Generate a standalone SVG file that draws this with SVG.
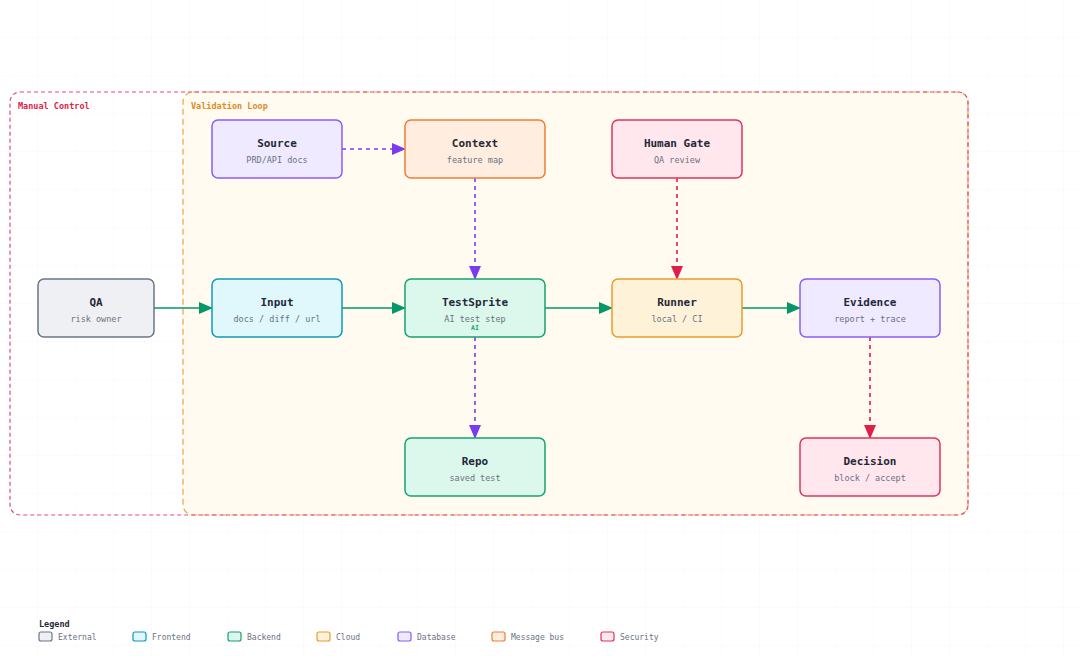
<svg xmlns="http://www.w3.org/2000/svg" width="1080" height="656" viewBox="0 0 1080 656">
<defs>
<pattern id="grid" width="38" height="38" patternUnits="userSpaceOnUse">
<path d="M38 0V38H0" fill="none" stroke="#f7f7f9" stroke-width="1"/>
</pattern>
<marker id="ag" viewBox="0 0 14 12" refX="13" refY="6" markerWidth="14" markerHeight="12" markerUnits="userSpaceOnUse" orient="auto"><path d="M0 0L14 6L0 12z" fill="#059669"/></marker>
<marker id="ap" viewBox="0 0 14 12" refX="13" refY="6" markerWidth="14" markerHeight="12" markerUnits="userSpaceOnUse" orient="auto"><path d="M0 0L14 6L0 12z" fill="#7c3aed"/></marker>
<marker id="ar" viewBox="0 0 14 12" refX="13" refY="6" markerWidth="14" markerHeight="12" markerUnits="userSpaceOnUse" orient="auto"><path d="M0 0L14 6L0 12z" fill="#e11d48"/></marker>
</defs>
<style>
text{font-family:"DejaVu Sans Mono","Liberation Mono",monospace}
.t{font-size:11px;font-weight:bold;fill:#1f2937;text-anchor:middle}
.s{font-size:8.5px;fill:#6b7280;text-anchor:middle}
.n rect{stroke-width:1.5}
.ext{fill:#eef0f4;stroke:#6b7689}
.fe{fill:#e0f7fc;stroke:#0e9ab8}
.be{fill:#dcf7ec;stroke:#16a271}
.cl{fill:#fef3d9;stroke:#eb9a2a}
.db{fill:#efeaff;stroke:#8b5cf6}
.mb{fill:#ffeddf;stroke:#ef7d34}
.se{fill:#ffe7ed;stroke:#e0345e}
.g{stroke:#059669;stroke-width:1.6;fill:none;marker-end:url(#ag)}
.p{stroke:#7c3aed;stroke-width:1.6;fill:none;stroke-dasharray:4 4;marker-end:url(#ap)}
.r{stroke:#e11d48;stroke-width:1.6;fill:none;stroke-dasharray:4 4;marker-end:url(#ar)}
.lg{font-size:8px;fill:#6b7280}
.lg rect{stroke-width:1.2}
</style>
<rect width="1080" height="656" fill="#ffffff"/>
<rect width="1080" height="656" fill="url(#grid)"/>
<g id="validation-loop">
<rect x="183" y="92" width="785" height="423" rx="10" fill="#fffbf1" stroke="#f0a040" stroke-width="1.2" stroke-dasharray="6 4"/>
<text x="191" y="109" font-size="8.5" font-weight="bold" fill="#e08a1e">Validation Loop</text>
</g>
<g id="manual-control">
<rect x="10" y="92" width="958" height="423" rx="10" fill="none" stroke="#e8487a" stroke-width="1.2" stroke-dasharray="4 3"/>
<text x="18" y="109" font-size="8.5" font-weight="bold" fill="#e11d48">Manual Control</text>
</g>
<g id="connectors">
<path class="g" d="M154 308H212"/>
<path class="g" d="M342 308H405"/>
<path class="g" d="M545 308H612"/>
<path class="g" d="M742 308H800"/>
<path class="p" d="M342 149H405"/>
<path class="p" d="M475 178V279"/>
<path class="p" d="M475 337V438"/>
<path class="r" d="M677 178V279"/>
<path class="r" d="M870 337V438"/>
</g>
<g id="source" class="n"><rect class="db" x="212" y="120" width="130" height="58" rx="6"/><text class="t" x="277" y="147">Source</text><text class="s" x="277" y="163">PRD/API docs</text></g>
<g id="context" class="n"><rect class="mb" x="405" y="120" width="140" height="58" rx="6"/><text class="t" x="475" y="147">Context</text><text class="s" x="475" y="163">feature map</text></g>
<g id="human-gate" class="n"><rect class="se" x="612" y="120" width="130" height="58" rx="6"/><text class="t" x="677" y="147">Human Gate</text><text class="s" x="677" y="163">QA review</text></g>
<g id="qa" class="n"><rect class="ext" x="38" y="279" width="116" height="58" rx="6"/><text class="t" x="96" y="306">QA</text><text class="s" x="96" y="322">risk owner</text></g>
<g id="input" class="n"><rect class="fe" x="212" y="279" width="130" height="58" rx="6"/><text class="t" x="277" y="306">Input</text><text class="s" x="277" y="322">docs / diff / url</text></g>
<g id="testsprite" class="n"><rect class="be" x="405" y="279" width="140" height="58" rx="6"/><text class="t" x="475" y="306">TestSprite</text><text class="s" x="475" y="322">AI test step</text><text x="475" y="330" font-size="6.5" font-weight="bold" fill="#16a271" text-anchor="middle">AI</text></g>
<g id="runner" class="n"><rect class="cl" x="612" y="279" width="130" height="58" rx="6"/><text class="t" x="677" y="306">Runner</text><text class="s" x="677" y="322">local / CI</text></g>
<g id="evidence" class="n"><rect class="db" x="800" y="279" width="140" height="58" rx="6"/><text class="t" x="870" y="306">Evidence</text><text class="s" x="870" y="322">report + trace</text></g>
<g id="repo" class="n"><rect class="be" x="405" y="438" width="140" height="58" rx="6"/><text class="t" x="475" y="465">Repo</text><text class="s" x="475" y="481">saved test</text></g>
<g id="decision" class="n"><rect class="se" x="800" y="438" width="140" height="58" rx="6"/><text class="t" x="870" y="465">Decision</text><text class="s" x="870" y="481">block / accept</text></g>
<g id="legend" class="lg">
<text x="39" y="627" font-size="8.5" font-weight="bold" fill="#1f2937">Legend</text>
<rect class="ext" x="39" y="632" width="13" height="9" rx="2"/><text x="58" y="640">External</text>
<rect class="fe" x="133" y="632" width="13" height="9" rx="2"/><text x="152" y="640">Frontend</text>
<rect class="be" x="228" y="632" width="13" height="9" rx="2"/><text x="247" y="640">Backend</text>
<rect class="cl" x="317" y="632" width="13" height="9" rx="2"/><text x="336" y="640">Cloud</text>
<rect class="db" x="398" y="632" width="13" height="9" rx="2"/><text x="417" y="640">Database</text>
<rect class="mb" x="492" y="632" width="13" height="9" rx="2"/><text x="511" y="640">Message bus</text>
<rect class="se" x="601" y="632" width="13" height="9" rx="2"/><text x="620" y="640">Security</text>
</g>
</svg>
